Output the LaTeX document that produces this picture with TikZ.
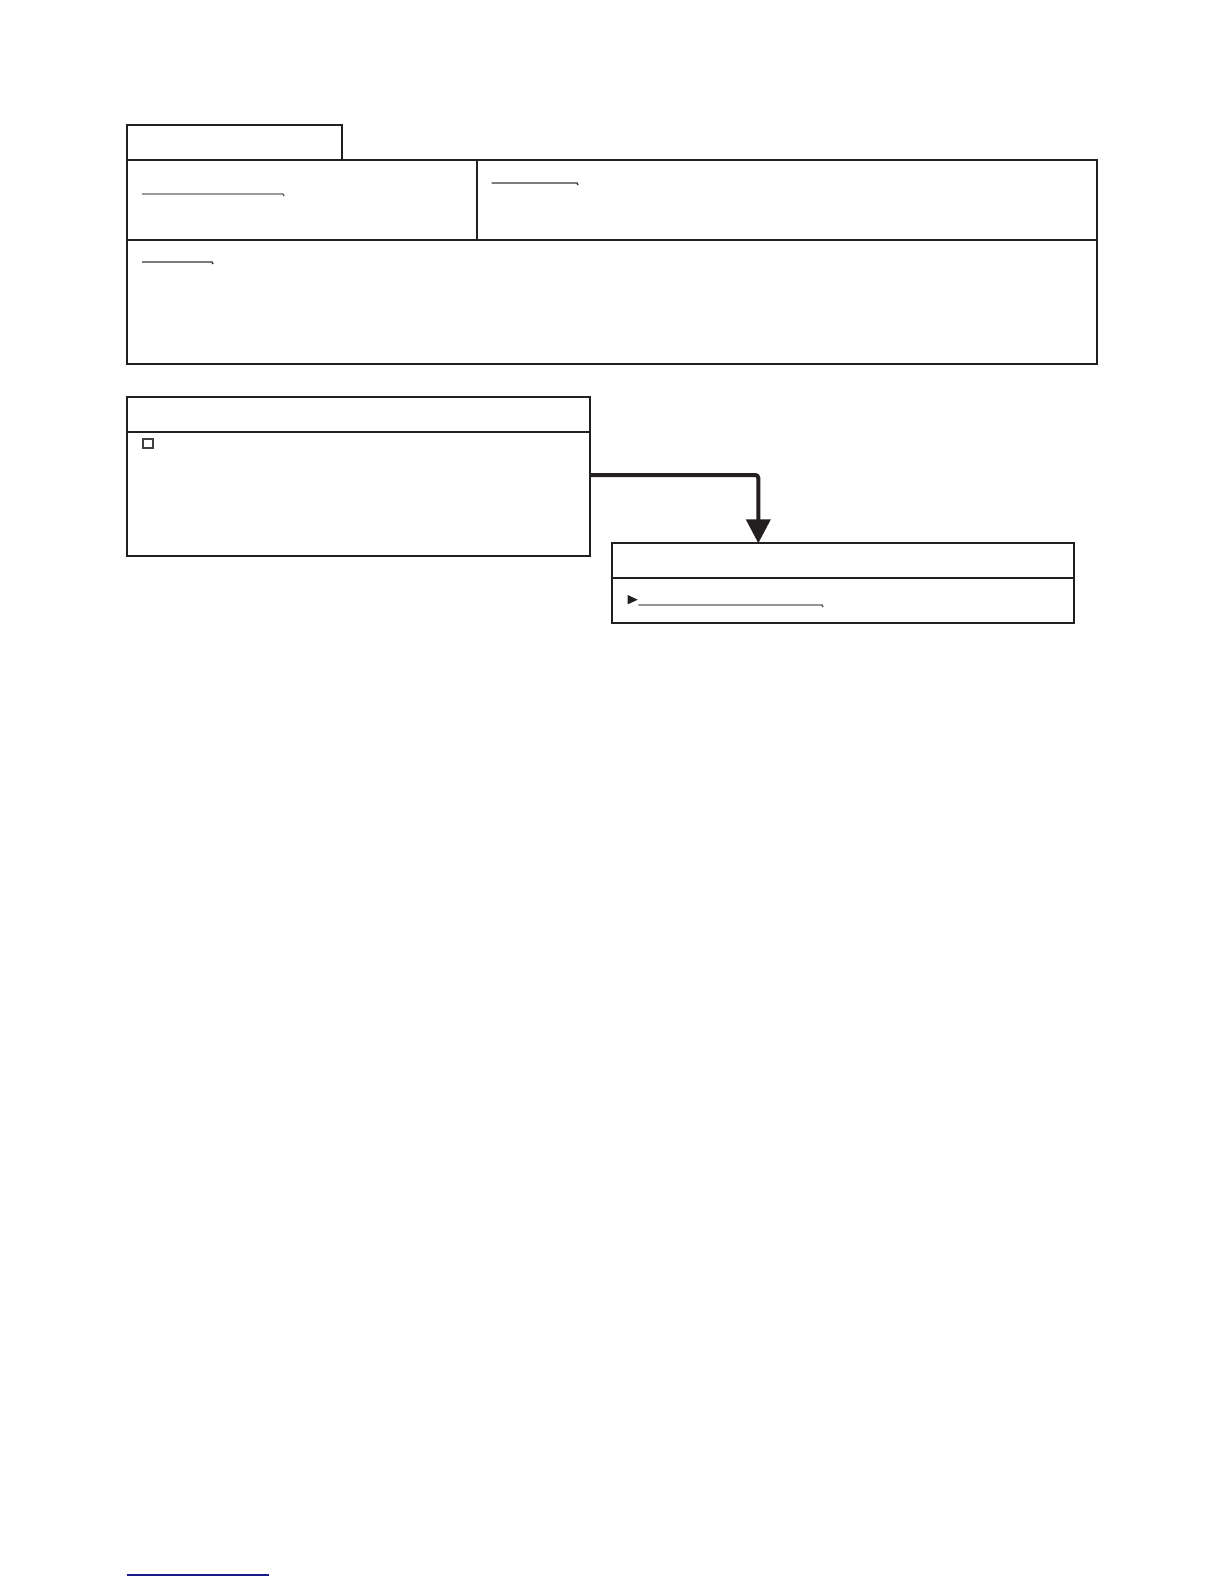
\documentclass[tikz,border=0pt]{standalone}
\usepackage{tikz}
\usetikzlibrary{arrows.meta}
\usetikzlibrary{positioning}

\definecolor{ink}{HTML}{231F20}
\definecolor{navy}{HTML}{1A1A8C}

\tikzset{
    cell/.style={draw=ink, line width=1.7pt, inner sep=0pt, outer sep=0pt, anchor=north west},
    link/.style={draw=ink!90, line width=1.4pt},
    flow/.style={draw=ink, line width=4pt, rounded corners=3pt, -{Triangle[length=24pt,width=24pt]}},
}

\begin{document}
\begin{tikzpicture}[x=1pt,y=-1pt]
    \useasboundingbox (0,0) rectangle (1224,1584);
    % upper block
    \node[cell, minimum width=215.6pt, minimum height=34.7pt] (tab) at (126.7,125.3) {};
    \node[cell, minimum width=350pt, minimum height=80pt, below right=0pt of tab.south west] (info) {};
    \node[cell, minimum width=620.6pt, minimum height=80pt, right=0pt of info] (note) {};
    \node[cell, minimum width=970.6pt, minimum height=124pt, below right=0pt of info.south west] (detail) {};
    \draw[ink, line width=2.6pt] (info.north west) -- (note.north east);
    \draw[link, draw=ink!70] (142,194) -- (283,194) -- ++(1,2);
    \draw[link] (491.7,183) -- (577,183) -- ++(1,2);
    \draw[link] (142,262) -- (212,262) -- ++(1,2);

    % left box
    \node[cell, minimum width=463.6pt, minimum height=35pt] (srchead) at (126.7,396.7) {};
    \node[cell, minimum width=463.6pt, minimum height=124pt, below right=0pt of srchead.south west] (srcbody) {};
    \node[draw=ink!85, line width=2.2pt, minimum size=9.5pt, inner sep=0pt] (tick) at (148,443.5) {};

    % right box
    \node[cell, minimum width=462.6pt, minimum height=35pt] (dsthead) at (611.7,543.3) {};
    \node[cell, minimum width=462.6pt, minimum height=45pt, below right=0pt of dsthead.south west] (dstbody) {};
    \fill[ink] (627.7,595) -- (637.7,599.7) -- (627.7,604.3) -- cycle;
    \draw[link, draw=ink!75] (638.3,605) -- (822,605) -- ++(1,2);

    \draw[flow] ([yshift=-43.3pt]srchead.south east) -| ([xshift=146.6pt]dsthead.north west);

    \draw[navy, line width=1.3pt] (126.7,1575) -- (269,1575);
\end{tikzpicture}
\end{document}
